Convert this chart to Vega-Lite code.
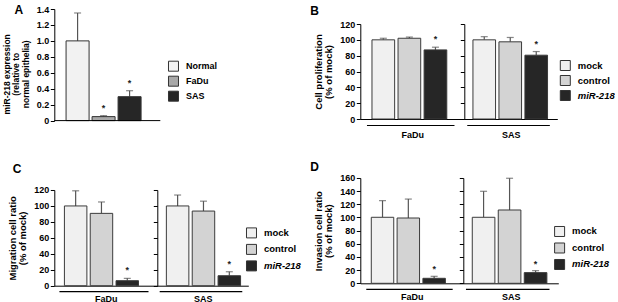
{
  "$schema": "https://vega.github.io/schema/vega-lite/v6.json",
  "padding": {"left": 1.3, "top": 0, "right": 0, "bottom": 0},
  "config": {
    "font": "Liberation Sans",
    "view": {"stroke": null},
    "axis": {"grid": false, "domainColor": "#000", "domainWidth": 1, "tickColor": "#000", "tickWidth": 1, "tickSize": 4, "labelColor": "#000", "labelFont": "Liberation Sans", "labelFontSize": 9, "labelFontWeight": "bold", "labelPadding": 1.5, "titleColor": "#000", "titleFont": "Liberation Sans", "titleFontSize": 9.5, "titleFontWeight": "bold", "titlePadding": 6, "titleLineHeight": 10},
    "legend": {"padding": 0, "labelFont": "Liberation Sans", "labelFontWeight": "bold", "labelFontSize": 9.5, "labelColor": "#000", "symbolType": "square", "symbolSize": 100, "symbolStrokeColor": "#333", "symbolStrokeWidth": 1, "labelOffset": 7, "rowPadding": 1.5, "orient": "none"},
    "title": {"font": "Liberation Sans", "fontSize": 12, "fontWeight": "bold", "color": "#000", "anchor": "start", "frame": "bounds"}
  },
  "datasets": {
    "a": [
      {"cell": "Normal", "value": 1.0, "err": 1.35, "sig": ""},
      {"cell": "FaDu", "value": 0.05, "err": 0.062, "sig": "*"},
      {"cell": "SAS", "value": 0.30, "err": 0.375, "sig": "*"}
    ],
    "b": [
      {"line": "FaDu", "cond": "mock", "value": 100, "err": 102, "sig": ""},
      {"line": "FaDu", "cond": "control", "value": 102, "err": 103.5, "sig": ""},
      {"line": "FaDu", "cond": "miR-218", "value": 87.3, "err": 90.7, "sig": "*"},
      {"line": "SAS", "cond": "mock", "value": 100, "err": 104, "sig": ""},
      {"line": "SAS", "cond": "control", "value": 97.5, "err": 103, "sig": ""},
      {"line": "SAS", "cond": "miR-218", "value": 80.6, "err": 85.2, "sig": "*"}
    ],
    "c": [
      {"line": "FaDu", "cond": "mock", "value": 100, "err": 119, "sig": ""},
      {"line": "FaDu", "cond": "control", "value": 90.7, "err": 105, "sig": ""},
      {"line": "FaDu", "cond": "miR-218", "value": 6.3, "err": 9.2, "sig": "*"},
      {"line": "SAS", "cond": "mock", "value": 100, "err": 113.7, "sig": ""},
      {"line": "SAS", "cond": "control", "value": 93.6, "err": 106, "sig": ""},
      {"line": "SAS", "cond": "miR-218", "value": 12.5, "err": 17.5, "sig": "*"}
    ],
    "d": [
      {"line": "FaDu", "cond": "mock", "value": 100.3, "err": 125.6, "sig": ""},
      {"line": "FaDu", "cond": "control", "value": 99.2, "err": 128, "sig": ""},
      {"line": "FaDu", "cond": "miR-218", "value": 7.6, "err": 10.6, "sig": "*"},
      {"line": "SAS", "cond": "mock", "value": 100.3, "err": 139.8, "sig": ""},
      {"line": "SAS", "cond": "control", "value": 111.4, "err": 159.6, "sig": ""},
      {"line": "SAS", "cond": "miR-218", "value": 16.2, "err": 19.2, "sig": "*"}
    ]
  },
  "columns": 2,
  "align": "none",
  "spacing": 8,
  "resolve": {"scale": {"color": "independent"}},
  "concat": [
    {
      "spacing": 27,
      "resolve": {"scale": {"color": "independent"}},
      "vconcat": [
        {
          "width": 106, "height": 96.6,
          "data": {"name": "a"},
          "layer": [
            {"mark": {"type": "rule", "color": "#555", "strokeWidth": 1.2}, "encoding": {"x": {"field": "cell", "type": "nominal", "scale": {"domain": ["Normal", "FaDu", "SAS"], "paddingInner": 0.115, "paddingOuter": 0.596, "align": 0.38}, "axis": {"orient": "top", "title": "A", "labels": false, "ticks": false, "domain": false, "titleFontSize": 12, "titleX": -40.3, "titleY": -10.8, "titleAlign": "left", "titleBaseline": "alphabetic"}}, "y": {"field": "value", "type": "quantitative", "scale": {"domain": [0, 1.4], "nice": false, "range": [96.6, -15]}, "axis": {"title": ["miR-218 expression", "(relative to", "normal epithelia)"], "values": [0, 0.2, 0.4, 0.6, 0.8, 1, 1.2, 1.4], "labelExpr": "datum.value === 0 ? '0' : format(datum.value, '.1f')", "titleFontSize": 8.5, "titleLineHeight": 9.5, "titleY": 49.8}}, "y2": {"field": "err"}}},
            {"mark": {"type": "tick", "color": "#555", "size": 7, "thickness": 1.2}, "encoding": {"x": {"field": "cell", "type": "nominal", "scale": {"domain": ["Normal", "FaDu", "SAS"], "paddingInner": 0.115, "paddingOuter": 0.596, "align": 0.38}, "axis": {"orient": "top", "title": "A", "labels": false, "ticks": false, "domain": false, "titleFontSize": 12, "titleX": -40.3, "titleY": -10.8, "titleAlign": "left", "titleBaseline": "alphabetic"}}, "y": {"field": "err", "type": "quantitative", "scale": {"domain": [0, 1.4], "nice": false, "range": [96.6, -15]}, "axis": {"title": ["miR-218 expression", "(relative to", "normal epithelia)"], "values": [0, 0.2, 0.4, 0.6, 0.8, 1, 1.2, 1.4], "labelExpr": "datum.value === 0 ? '0' : format(datum.value, '.1f')", "titleFontSize": 8.5, "titleLineHeight": 9.5, "titleY": 49.8}}}},
            {"mark": {"type": "bar", "stroke": "#333", "strokeWidth": 1}, "encoding": {"x": {"field": "cell", "type": "nominal", "scale": {"domain": ["Normal", "FaDu", "SAS"], "paddingInner": 0.115, "paddingOuter": 0.596, "align": 0.38}, "axis": {"orient": "top", "title": "A", "labels": false, "ticks": false, "domain": false, "titleFontSize": 12, "titleX": -40.3, "titleY": -10.8, "titleAlign": "left", "titleBaseline": "alphabetic"}}, "y": {"field": "value", "type": "quantitative", "scale": {"domain": [0, 1.4], "nice": false, "range": [96.6, -15]}, "axis": {"title": ["miR-218 expression", "(relative to", "normal epithelia)"], "values": [0, 0.2, 0.4, 0.6, 0.8, 1, 1.2, 1.4], "labelExpr": "datum.value === 0 ? '0' : format(datum.value, '.1f')", "titleFontSize": 8.5, "titleLineHeight": 9.5, "titleY": 49.8}}, "color": {"field": "cell", "type": "nominal", "scale": {"domain": ["Normal", "FaDu", "SAS"], "range": ["#f2f2f2", "#a8a8a8", "#262626"]}, "legend": {"title": null, "legendX": 113.7, "legendY": 36.7, "labelFontSize": 9, "rowPadding": 0, "encode": {"symbols": {"update": {"stroke": {"value": "#333"}, "strokeWidth": {"value": 1}}}}}}}},
            {"mark": {"type": "text", "baseline": "alphabetic", "dy": -5, "fontSize": 9, "fontWeight": "bold", "color": "#222"}, "encoding": {"x": {"field": "cell", "type": "nominal", "scale": {"domain": ["Normal", "FaDu", "SAS"], "paddingInner": 0.115, "paddingOuter": 0.596, "align": 0.38}, "axis": {"orient": "top", "title": "A", "labels": false, "ticks": false, "domain": false, "titleFontSize": 12, "titleX": -40.3, "titleY": -10.8, "titleAlign": "left", "titleBaseline": "alphabetic"}}, "y": {"field": "err", "type": "quantitative", "scale": {"domain": [0, 1.4], "nice": false, "range": [96.6, -15]}, "axis": {"title": ["miR-218 expression", "(relative to", "normal epithelia)"], "values": [0, 0.2, 0.4, 0.6, 0.8, 1, 1.2, 1.4], "labelExpr": "datum.value === 0 ? '0' : format(datum.value, '.1f')", "titleFontSize": 8.5, "titleLineHeight": 9.5, "titleY": 49.8}}, "text": {"field": "sig"}}},
            {"transform": [{"filter": "datum.cell === 'Normal'"}], "mark": {"type": "rule", "color": "#000", "strokeWidth": 1}, "encoding": {"y": {"datum": 0, "type": "quantitative", "scale": {"domain": [0, 1.4], "nice": false, "range": [96.6, -15]}, "axis": {"title": ["miR-218 expression", "(relative to", "normal epithelia)"], "values": [0, 0.2, 0.4, 0.6, 0.8, 1, 1.2, 1.4], "labelExpr": "datum.value === 0 ? '0' : format(datum.value, '.1f')", "titleFontSize": 8.5, "titleLineHeight": 9.5, "titleY": 49.8}}}}
          ]
        },
        {
          "spacing": 0,
          "bounds": "flush",
          "hconcat": [
            {
              "width": 103, "height": 95.7,
              "data": {"name": "c"},
              "transform": [{"filter": "datum.line === 'FaDu'"}],
              "title": {"text": "C", "offset": 2.65, "dx": 5},
              "encoding": {"x": {"field": "cond", "type": "nominal", "scale": {"domain": ["mock", "control", "miR-218"], "paddingInner": 0.13, "paddingOuter": 0.56, "align": 0.35}, "axis": {"title": "FaDu", "labels": false, "ticks": false, "titleFontSize": 9, "titleBaseline": "top", "titleY": 9}}},
              "layer": [
                {"mark": {"type": "rule", "color": "#555", "strokeWidth": 1.2}, "encoding": {"y": {"field": "value", "type": "quantitative", "scale": {"domain": [0, 120], "nice": false}, "axis": {"title": ["Migration cell ratio", "(% of mock)"], "values": [0, 20, 40, 60, 80, 100, 120]}}, "y2": {"field": "err"}}},
                {"mark": {"type": "tick", "color": "#555", "size": 7, "thickness": 1.2}, "encoding": {"y": {"field": "err", "type": "quantitative", "scale": {"domain": [0, 120], "nice": false}, "axis": {"title": ["Migration cell ratio", "(% of mock)"], "values": [0, 20, 40, 60, 80, 100, 120]}}}},
                {"mark": {"type": "bar", "stroke": "#3a3a3a", "strokeWidth": 1}, "encoding": {"y": {"field": "value", "type": "quantitative", "scale": {"domain": [0, 120], "nice": false}, "axis": {"title": ["Migration cell ratio", "(% of mock)"], "values": [0, 20, 40, 60, 80, 100, 120]}}, "color": {"field": "cond", "type": "nominal", "scale": {"domain": ["mock", "control", "miR-218"], "range": ["#f0f0f0", "#d3d3d3", "#262626"]}, "legend": {"title": null, "legendX": 191.7, "legendY": 37.4, "rowPadding": 1.5, "encode": {"symbols": {"update": {"fill": {"signal": "datum.value === 'control' ? '#ababab' : datum.value === 'mock' ? '#f2f2f2' : '#262626'"}, "stroke": {"value": "#333"}, "strokeWidth": {"value": 1}}}, "labels": {"update": {"fontStyle": {"signal": "datum.value === 'miR-218' ? 'italic' : 'normal'"}}}}}}}},
                {"mark": {"type": "text", "baseline": "alphabetic", "dy": -5, "fontSize": 9, "fontWeight": "bold", "color": "#222"}, "encoding": {"y": {"field": "err", "type": "quantitative", "scale": {"domain": [0, 120], "nice": false}, "axis": {"title": ["Migration cell ratio", "(% of mock)"], "values": [0, 20, 40, 60, 80, 100, 120]}}, "text": {"field": "sig"}}},
                {"transform": [{"filter": "datum.cond === 'mock'"}], "mark": {"type": "rule", "color": "#000", "strokeWidth": 1.2, "xOffset": -5, "x2Offset": 10, "yOffset": 6}, "encoding": {"x": {"datum": "mock", "type": "nominal", "bandPosition": 0, "axis": {"title": "FaDu", "labels": false, "ticks": false, "titleFontSize": 9, "titleBaseline": "top", "titleY": 9}}, "x2": {"datum": "miR-218", "bandPosition": 1}, "y": {"datum": 0, "type": "quantitative", "scale": {"domain": [0, 120], "nice": false}, "axis": {"title": ["Migration cell ratio", "(% of mock)"], "values": [0, 20, 40, 60, 80, 100, 120]}}}}
              ]
            },
            {
              "width": 91, "height": 95.7,
              "data": {"name": "c"},
              "transform": [{"filter": "datum.line === 'SAS'"}],
              "encoding": {"x": {"field": "cond", "type": "nominal", "scale": {"domain": ["mock", "control", "miR-218"], "paddingInner": 0.13, "paddingOuter": 0.325, "align": 0.54}, "axis": {"title": "SAS", "labels": false, "ticks": false, "titleFontSize": 9, "titleBaseline": "top", "titleY": 9}}},
              "layer": [
                {"mark": {"type": "rule", "color": "#555", "strokeWidth": 1.2}, "encoding": {"y": {"field": "value", "type": "quantitative", "scale": {"domain": [0, 120], "nice": false}, "axis": {"title": null, "labels": false, "values": [0, 20, 40, 60, 80, 100, 120]}}, "y2": {"field": "err"}}},
                {"mark": {"type": "tick", "color": "#555", "size": 7, "thickness": 1.2}, "encoding": {"y": {"field": "err", "type": "quantitative", "scale": {"domain": [0, 120], "nice": false}, "axis": {"title": null, "labels": false, "values": [0, 20, 40, 60, 80, 100, 120]}}}},
                {"mark": {"type": "bar", "stroke": "#3a3a3a", "strokeWidth": 1}, "encoding": {"y": {"field": "value", "type": "quantitative", "scale": {"domain": [0, 120], "nice": false}, "axis": {"title": null, "labels": false, "values": [0, 20, 40, 60, 80, 100, 120]}}, "color": {"field": "cond", "type": "nominal", "scale": {"domain": ["mock", "control", "miR-218"], "range": ["#f0f0f0", "#d3d3d3", "#262626"]}, "legend": {"title": null, "legendX": 191.7, "legendY": 37.4, "rowPadding": 1.5, "encode": {"symbols": {"update": {"fill": {"signal": "datum.value === 'control' ? '#ababab' : datum.value === 'mock' ? '#f2f2f2' : '#262626'"}, "stroke": {"value": "#333"}, "strokeWidth": {"value": 1}}}, "labels": {"update": {"fontStyle": {"signal": "datum.value === 'miR-218' ? 'italic' : 'normal'"}}}}}}}},
                {"mark": {"type": "text", "baseline": "alphabetic", "dy": -5, "fontSize": 9, "fontWeight": "bold", "color": "#222"}, "encoding": {"y": {"field": "err", "type": "quantitative", "scale": {"domain": [0, 120], "nice": false}, "axis": {"title": null, "labels": false, "values": [0, 20, 40, 60, 80, 100, 120]}}, "text": {"field": "sig"}}},
                {"transform": [{"filter": "datum.cond === 'mock'"}], "mark": {"type": "rule", "color": "#000", "strokeWidth": 1.2, "xOffset": -6.7, "x2Offset": 1.7, "yOffset": 6}, "encoding": {"x": {"datum": "mock", "type": "nominal", "bandPosition": 0, "axis": {"title": "SAS", "labels": false, "ticks": false, "titleFontSize": 9, "titleBaseline": "top", "titleY": 9}}, "x2": {"datum": "miR-218", "bandPosition": 1}, "y": {"datum": 0, "type": "quantitative", "scale": {"domain": [0, 120], "nice": false}, "axis": {"title": null, "labels": false, "values": [0, 20, 40, 60, 80, 100, 120]}}}}
              ]
            }
          ]
        }
      ]
    },
    {
      "spacing": 22,
      "resolve": {"scale": {"color": "independent"}},
      "vconcat": [
        {
          "spacing": 0,
          "bounds": "flush",
          "hconcat": [
            {
              "width": 104, "height": 95,
              "data": {"name": "b"},
              "transform": [{"filter": "datum.line === 'FaDu'"}],
              "title": {"text": "B", "offset": 2, "dx": -3.5},
              "encoding": {"x": {"field": "cond", "type": "nominal", "scale": {"domain": ["mock", "control", "miR-218"], "paddingInner": 0.13, "paddingOuter": 0.56, "align": 0.4}, "axis": {"title": "FaDu", "labels": false, "ticks": false, "titleFontSize": 9, "titleBaseline": "top", "titleY": 11}}},
              "layer": [
                {"mark": {"type": "rule", "color": "#555", "strokeWidth": 1.2}, "encoding": {"y": {"field": "value", "type": "quantitative", "scale": {"domain": [0, 120], "nice": false}, "axis": {"title": ["Cell proliferation", "(% of mock)"], "values": [0, 20, 40, 60, 80, 100, 120]}}, "y2": {"field": "err"}}},
                {"mark": {"type": "tick", "color": "#555", "size": 7, "thickness": 1.2}, "encoding": {"y": {"field": "err", "type": "quantitative", "scale": {"domain": [0, 120], "nice": false}, "axis": {"title": ["Cell proliferation", "(% of mock)"], "values": [0, 20, 40, 60, 80, 100, 120]}}}},
                {"mark": {"type": "bar", "stroke": "#3a3a3a", "strokeWidth": 1}, "encoding": {"y": {"field": "value", "type": "quantitative", "scale": {"domain": [0, 120], "nice": false}, "axis": {"title": ["Cell proliferation", "(% of mock)"], "values": [0, 20, 40, 60, 80, 100, 120]}}, "color": {"field": "cond", "type": "nominal", "scale": {"domain": ["mock", "control", "miR-218"], "range": ["#f0f0f0", "#d3d3d3", "#262626"]}, "legend": {"title": null, "legendX": 199.5, "legendY": 36, "rowPadding": 0, "encode": {"symbols": {"update": {"fill": {"signal": "datum.value === 'control' ? '#ababab' : datum.value === 'mock' ? '#f2f2f2' : '#262626'"}, "stroke": {"value": "#333"}, "strokeWidth": {"value": 1}}}, "labels": {"update": {"fontStyle": {"signal": "datum.value === 'miR-218' ? 'italic' : 'normal'"}}}}}}}},
                {"mark": {"type": "text", "baseline": "alphabetic", "dy": -5, "fontSize": 9, "fontWeight": "bold", "color": "#222"}, "encoding": {"y": {"field": "err", "type": "quantitative", "scale": {"domain": [0, 120], "nice": false}, "axis": {"title": ["Cell proliferation", "(% of mock)"], "values": [0, 20, 40, 60, 80, 100, 120]}}, "text": {"field": "sig"}}},
                {"transform": [{"filter": "datum.cond === 'mock'"}], "mark": {"type": "rule", "color": "#000", "strokeWidth": 1.2, "xOffset": -5, "x2Offset": 7.7, "yOffset": 6.5}, "encoding": {"x": {"datum": "mock", "type": "nominal", "bandPosition": 0, "axis": {"title": "FaDu", "labels": false, "ticks": false, "titleFontSize": 9, "titleBaseline": "top", "titleY": 11}}, "x2": {"datum": "miR-218", "bandPosition": 1}, "y": {"datum": 0, "type": "quantitative", "scale": {"domain": [0, 120], "nice": false}, "axis": {"title": ["Cell proliferation", "(% of mock)"], "values": [0, 20, 40, 60, 80, 100, 120]}}}}
              ]
            },
            {
              "width": 93, "height": 95,
              "data": {"name": "b"},
              "transform": [{"filter": "datum.line === 'SAS'"}],
              "encoding": {"x": {"field": "cond", "type": "nominal", "scale": {"domain": ["mock", "control", "miR-218"], "paddingInner": 0.13, "paddingOuter": 0.354, "align": 0.47}, "axis": {"title": "SAS", "labels": false, "ticks": false, "titleFontSize": 9, "titleBaseline": "top", "titleY": 11}}},
              "layer": [
                {"mark": {"type": "rule", "color": "#555", "strokeWidth": 1.2}, "encoding": {"y": {"field": "value", "type": "quantitative", "scale": {"domain": [0, 120], "nice": false}, "axis": {"title": null, "labels": false, "values": [0, 20, 40, 60, 80, 100, 120]}}, "y2": {"field": "err"}}},
                {"mark": {"type": "tick", "color": "#555", "size": 7, "thickness": 1.2}, "encoding": {"y": {"field": "err", "type": "quantitative", "scale": {"domain": [0, 120], "nice": false}, "axis": {"title": null, "labels": false, "values": [0, 20, 40, 60, 80, 100, 120]}}}},
                {"mark": {"type": "bar", "stroke": "#3a3a3a", "strokeWidth": 1}, "encoding": {"y": {"field": "value", "type": "quantitative", "scale": {"domain": [0, 120], "nice": false}, "axis": {"title": null, "labels": false, "values": [0, 20, 40, 60, 80, 100, 120]}}, "color": {"field": "cond", "type": "nominal", "scale": {"domain": ["mock", "control", "miR-218"], "range": ["#f0f0f0", "#d3d3d3", "#262626"]}, "legend": {"title": null, "legendX": 199.5, "legendY": 36, "rowPadding": 0, "encode": {"symbols": {"update": {"fill": {"signal": "datum.value === 'control' ? '#ababab' : datum.value === 'mock' ? '#f2f2f2' : '#262626'"}, "stroke": {"value": "#333"}, "strokeWidth": {"value": 1}}}, "labels": {"update": {"fontStyle": {"signal": "datum.value === 'miR-218' ? 'italic' : 'normal'"}}}}}}}},
                {"mark": {"type": "text", "baseline": "alphabetic", "dy": -5, "fontSize": 9, "fontWeight": "bold", "color": "#222"}, "encoding": {"y": {"field": "err", "type": "quantitative", "scale": {"domain": [0, 120], "nice": false}, "axis": {"title": null, "labels": false, "values": [0, 20, 40, 60, 80, 100, 120]}}, "text": {"field": "sig"}}},
                {"transform": [{"filter": "datum.cond === 'mock'"}], "mark": {"type": "rule", "color": "#000", "strokeWidth": 1.2, "xOffset": -5.7, "x2Offset": 2.3, "yOffset": 6.5}, "encoding": {"x": {"datum": "mock", "type": "nominal", "bandPosition": 0, "axis": {"title": "SAS", "labels": false, "ticks": false, "titleFontSize": 9, "titleBaseline": "top", "titleY": 11}}, "x2": {"datum": "miR-218", "bandPosition": 1}, "y": {"datum": 0, "type": "quantitative", "scale": {"domain": [0, 120], "nice": false}, "axis": {"title": null, "labels": false, "values": [0, 20, 40, 60, 80, 100, 120]}}}}
              ]
            }
          ]
        },
        {
          "spacing": 0,
          "bounds": "flush",
          "hconcat": [
            {
              "width": 103, "height": 105.3,
              "data": {"name": "d"},
              "transform": [{"filter": "datum.line === 'FaDu'"}],
              "title": {"text": "D", "offset": -0.35, "dx": -3.5},
              "encoding": {"x": {"field": "cond", "type": "nominal", "scale": {"domain": ["mock", "control", "miR-218"], "paddingInner": 0.13, "paddingOuter": 0.56, "align": 0.38}, "axis": {"title": "FaDu", "labels": false, "ticks": false, "titleFontSize": 9, "titleBaseline": "top", "titleY": 9}}},
              "layer": [
                {"mark": {"type": "rule", "color": "#555", "strokeWidth": 1.2}, "encoding": {"y": {"field": "value", "type": "quantitative", "scale": {"domain": [0, 160], "nice": false}, "axis": {"title": ["Invasion cell ratio", "(% of mock)"], "values": [0, 20, 40, 60, 80, 100, 120, 140, 160]}}, "y2": {"field": "err"}}},
                {"mark": {"type": "tick", "color": "#555", "size": 7, "thickness": 1.2}, "encoding": {"y": {"field": "err", "type": "quantitative", "scale": {"domain": [0, 160], "nice": false}, "axis": {"title": ["Invasion cell ratio", "(% of mock)"], "values": [0, 20, 40, 60, 80, 100, 120, 140, 160]}}}},
                {"mark": {"type": "bar", "stroke": "#3a3a3a", "strokeWidth": 1}, "encoding": {"y": {"field": "value", "type": "quantitative", "scale": {"domain": [0, 160], "nice": false}, "axis": {"title": ["Invasion cell ratio", "(% of mock)"], "values": [0, 20, 40, 60, 80, 100, 120, 140, 160]}}, "color": {"field": "cond", "type": "nominal", "scale": {"domain": ["mock", "control", "miR-218"], "range": ["#f0f0f0", "#d3d3d3", "#262626"]}, "legend": {"title": null, "legendX": 193.8, "legendY": 48, "rowPadding": 1.5, "encode": {"symbols": {"update": {"fill": {"signal": "datum.value === 'control' ? '#ababab' : datum.value === 'mock' ? '#f2f2f2' : '#262626'"}, "stroke": {"value": "#333"}, "strokeWidth": {"value": 1}}}, "labels": {"update": {"fontStyle": {"signal": "datum.value === 'miR-218' ? 'italic' : 'normal'"}}}}}}}},
                {"mark": {"type": "text", "baseline": "alphabetic", "dy": -4, "fontSize": 9, "fontWeight": "bold", "color": "#222"}, "encoding": {"y": {"field": "err", "type": "quantitative", "scale": {"domain": [0, 160], "nice": false}, "axis": {"title": ["Invasion cell ratio", "(% of mock)"], "values": [0, 20, 40, 60, 80, 100, 120, 140, 160]}}, "text": {"field": "sig"}}},
                {"transform": [{"filter": "datum.cond === 'mock'"}], "mark": {"type": "rule", "color": "#000", "strokeWidth": 1.2, "xOffset": -5, "x2Offset": 7.3, "yOffset": 6}, "encoding": {"x": {"datum": "mock", "type": "nominal", "bandPosition": 0, "axis": {"title": "FaDu", "labels": false, "ticks": false, "titleFontSize": 9, "titleBaseline": "top", "titleY": 9}}, "x2": {"datum": "miR-218", "bandPosition": 1}, "y": {"datum": 0, "type": "quantitative", "scale": {"domain": [0, 160], "nice": false}, "axis": {"title": ["Invasion cell ratio", "(% of mock)"], "values": [0, 20, 40, 60, 80, 100, 120, 140, 160]}}}}
              ]
            },
            {
              "width": 95, "height": 105.3,
              "data": {"name": "d"},
              "transform": [{"filter": "datum.line === 'SAS'"}],
              "encoding": {"x": {"field": "cond", "type": "nominal", "scale": {"domain": ["mock", "control", "miR-218"], "paddingInner": 0.13, "paddingOuter": 0.392, "align": 0.44}, "axis": {"title": "SAS", "labels": false, "ticks": false, "titleFontSize": 9, "titleBaseline": "top", "titleY": 9}}},
              "layer": [
                {"mark": {"type": "rule", "color": "#555", "strokeWidth": 1.2}, "encoding": {"y": {"field": "value", "type": "quantitative", "scale": {"domain": [0, 160], "nice": false}, "axis": {"title": null, "labels": false, "values": [0, 20, 40, 60, 80, 100, 120, 140, 160]}}, "y2": {"field": "err"}}},
                {"mark": {"type": "tick", "color": "#555", "size": 7, "thickness": 1.2}, "encoding": {"y": {"field": "err", "type": "quantitative", "scale": {"domain": [0, 160], "nice": false}, "axis": {"title": null, "labels": false, "values": [0, 20, 40, 60, 80, 100, 120, 140, 160]}}}},
                {"mark": {"type": "bar", "stroke": "#3a3a3a", "strokeWidth": 1}, "encoding": {"y": {"field": "value", "type": "quantitative", "scale": {"domain": [0, 160], "nice": false}, "axis": {"title": null, "labels": false, "values": [0, 20, 40, 60, 80, 100, 120, 140, 160]}}, "color": {"field": "cond", "type": "nominal", "scale": {"domain": ["mock", "control", "miR-218"], "range": ["#f0f0f0", "#d3d3d3", "#262626"]}, "legend": {"title": null, "legendX": 193.8, "legendY": 48, "rowPadding": 1.5, "encode": {"symbols": {"update": {"fill": {"signal": "datum.value === 'control' ? '#ababab' : datum.value === 'mock' ? '#f2f2f2' : '#262626'"}, "stroke": {"value": "#333"}, "strokeWidth": {"value": 1}}}, "labels": {"update": {"fontStyle": {"signal": "datum.value === 'miR-218' ? 'italic' : 'normal'"}}}}}}}},
                {"mark": {"type": "text", "baseline": "alphabetic", "dy": -4, "fontSize": 9, "fontWeight": "bold", "color": "#222"}, "encoding": {"y": {"field": "err", "type": "quantitative", "scale": {"domain": [0, 160], "nice": false}, "axis": {"title": null, "labels": false, "values": [0, 20, 40, 60, 80, 100, 120, 140, 160]}}, "text": {"field": "sig"}}},
                {"transform": [{"filter": "datum.cond === 'mock'"}], "mark": {"type": "rule", "color": "#000", "strokeWidth": 1.2, "xOffset": -6.3, "x2Offset": 2.6, "yOffset": 6}, "encoding": {"x": {"datum": "mock", "type": "nominal", "bandPosition": 0, "axis": {"title": "SAS", "labels": false, "ticks": false, "titleFontSize": 9, "titleBaseline": "top", "titleY": 9}}, "x2": {"datum": "miR-218", "bandPosition": 1}, "y": {"datum": 0, "type": "quantitative", "scale": {"domain": [0, 160], "nice": false}, "axis": {"title": null, "labels": false, "values": [0, 20, 40, 60, 80, 100, 120, 140, 160]}}}}
              ]
            }
          ]
        }
      ]
    }
  ]
}
